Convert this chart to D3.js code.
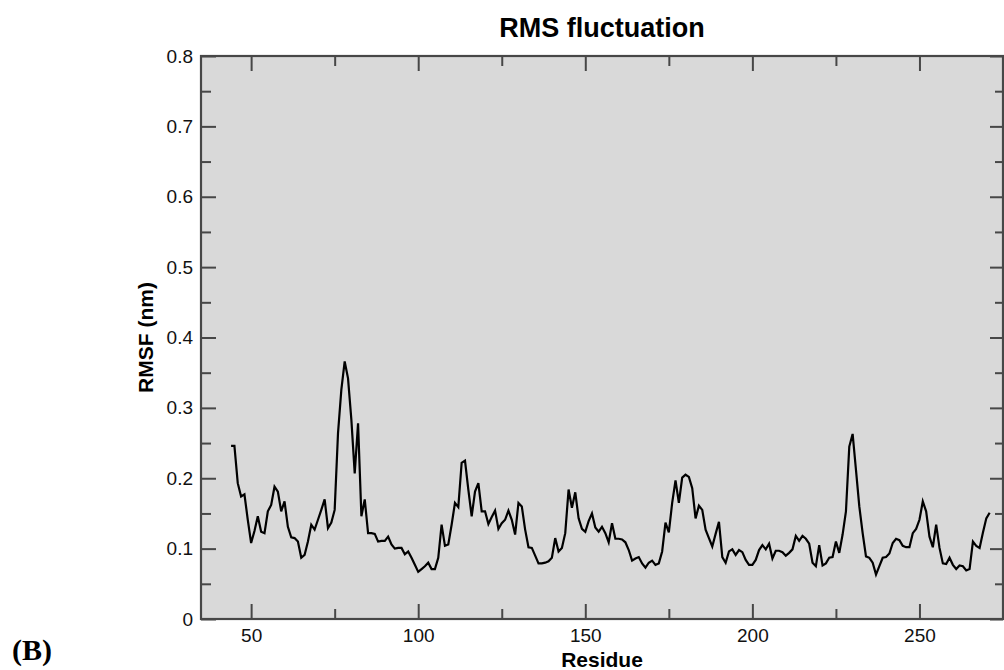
<!DOCTYPE html>
<html>
<head>
<meta charset="utf-8">
<script src="https://cdn.jsdelivr.net/npm/d3@7"></script>
<style>
  body { margin: 0; background: #fff; }
  svg { display: block; }
</style>
</head>
<body>
<div id="chart"></div>
<script>
// ── Data ──
const firstResidue = 44;
const rmsf = [
  0.246, 0.246, 0.193, 0.174, 0.177, 0.141,
  0.108, 0.125, 0.146, 0.124, 0.122, 0.153, 0.162, 0.188, 0.181, 0.153,
  0.167, 0.131, 0.116, 0.115, 0.110, 0.087, 0.091, 0.110, 0.134, 0.127,
  0.141, 0.155, 0.170, 0.129, 0.137, 0.155, 0.264, 0.326, 0.366, 0.342,
  0.283, 0.207, 0.278, 0.146, 0.170, 0.122, 0.122, 0.121, 0.110, 0.111,
  0.111, 0.117, 0.106, 0.100, 0.101, 0.101, 0.092, 0.096, 0.087, 0.077,
  0.067, 0.071, 0.075, 0.080, 0.071, 0.071, 0.087, 0.134, 0.104, 0.106,
  0.134, 0.165, 0.159, 0.222, 0.225, 0.184, 0.146, 0.181, 0.193, 0.153,
  0.153, 0.135, 0.145, 0.154, 0.128, 0.136, 0.141, 0.154, 0.141, 0.120,
  0.165, 0.160, 0.127, 0.102, 0.101, 0.090, 0.079, 0.079, 0.080, 0.082,
  0.087, 0.115, 0.096, 0.101, 0.122, 0.184, 0.158, 0.180, 0.143, 0.128,
  0.124, 0.139, 0.150, 0.130, 0.124, 0.131, 0.122, 0.109, 0.136, 0.114,
  0.114, 0.113, 0.109, 0.098, 0.083, 0.086, 0.088, 0.079, 0.073, 0.080,
  0.083, 0.077, 0.079, 0.096, 0.137, 0.123, 0.165, 0.197, 0.165, 0.201,
  0.205, 0.202, 0.186, 0.143, 0.161, 0.155, 0.127, 0.115, 0.103, 0.121,
  0.138, 0.088, 0.080, 0.096, 0.099, 0.091, 0.098, 0.095, 0.084, 0.077,
  0.077, 0.084, 0.098, 0.105, 0.099, 0.107, 0.086, 0.097, 0.097, 0.095,
  0.090, 0.094, 0.099, 0.118, 0.111, 0.118, 0.114, 0.107, 0.080, 0.075,
  0.105, 0.076, 0.079, 0.087, 0.088, 0.110, 0.094, 0.120, 0.153, 0.245,
  0.263, 0.212, 0.160, 0.122, 0.089, 0.087, 0.080, 0.063, 0.075, 0.087,
  0.088, 0.093, 0.108, 0.114, 0.112, 0.104, 0.102, 0.102, 0.122, 0.128,
  0.141, 0.167, 0.153, 0.117, 0.102, 0.134, 0.101, 0.079, 0.078, 0.087,
  0.077, 0.071, 0.076, 0.075, 0.069, 0.071, 0.110, 0.104, 0.101, 0.123,
  0.143, 0.151
];
const residues = d3.range(firstResidue, firstResidue + rmsf.length);

const xDomain = [35, 275];
const yDomain = [0, 0.8];
const xMajor = [50, 100, 150, 200, 250];
const xMinor = [75, 125, 175, 225];
const yMajor = [0, 0.1, 0.2, 0.3, 0.4, 0.5, 0.6, 0.7, 0.8];
const yMinor = [0.05, 0.15, 0.25, 0.35, 0.45, 0.55, 0.65, 0.75];

// ── Layout ──
const W = 1004, H = 670;
const M = { t: 56, r: 1, b: 51, l: 201 };
const w = W - M.l - M.r;
const h = H - M.t - M.b;
const FONT = "'Liberation Sans', Arial, Helvetica, sans-serif";
const AXIS = "#474747";

const svg = d3.select("#chart").append("svg")
  .attr("width", W).attr("height", H);

const g = svg.append("g").attr("transform", `translate(${M.l},${M.t})`);

const x = d3.scaleLinear().domain(xDomain).range([0, w]);
const y = d3.scaleLinear().domain(yDomain).range([h, 0]);

g.append("rect")
  .attr("width", w).attr("height", h)
  .attr("fill", "#d9d9d9");

// ── Ticks (all pointing inward) ──
function tickGroup(axis, transform, labels) {
  const a = g.append("g").attr("transform", transform).call(axis);
  a.select(".domain").remove();
  a.selectAll("line").attr("stroke", AXIS).attr("stroke-width", 2);
  a.selectAll("text")
    .attr("fill", labels ? "#111" : "none")
    .style("font-family", FONT)
    .style("font-size", "19px");
  return a;
}

tickGroup(d3.axisBottom(x).tickValues(xMajor).tickSize(-15).tickPadding(10).tickFormat(d3.format("d")), `translate(0,${h})`, true);
tickGroup(d3.axisBottom(x).tickValues(xMinor).tickSize(-10).tickFormat(""), `translate(0,${h})`, false);
tickGroup(d3.axisTop(x).tickValues(xMajor).tickSize(-15).tickFormat(""), "translate(0,0)", false);
tickGroup(d3.axisTop(x).tickValues(xMinor).tickSize(-10).tickFormat(""), "translate(0,0)", false);

tickGroup(d3.axisLeft(y).tickValues(yMajor).tickSize(-15).tickPadding(8).tickFormat((d) => (d === 0 ? "0" : d3.format(".1f")(d))), "translate(0,0)", true);
tickGroup(d3.axisLeft(y).tickValues(yMinor).tickSize(-10).tickFormat(""), "translate(0,0)", false);
tickGroup(d3.axisRight(y).tickValues(yMajor).tickSize(-13).tickFormat(""), `translate(${w},0)`, false);
tickGroup(d3.axisRight(y).tickValues(yMinor).tickSize(-8).tickFormat(""), `translate(${w},0)`, false);

// ── Line ──
g.append("path")
  .datum(residues.map((r, i) => ({ r, v: rmsf[i] })))
  .attr("d", d3.line().x((d) => x(d.r)).y((d) => y(d.v)))
  .attr("fill", "none")
  .attr("stroke", "#000")
  .attr("stroke-width", 2.2)
  .attr("stroke-linejoin", "miter");

// ── Frame ──
g.append("rect")
  .attr("width", w).attr("height", h)
  .attr("fill", "none")
  .attr("stroke", AXIS)
  .attr("stroke-width", 2.2);

// ── Labels ──
svg.append("text")
  .attr("x", M.l + w / 2).attr("y", 37)
  .attr("text-anchor", "middle")
  .style("font-family", FONT).style("font-size", "27px").style("font-weight", "bold")
  .text("RMS fluctuation");

svg.append("text")
  .attr("x", M.l + w / 2).attr("y", 667)
  .attr("text-anchor", "middle")
  .style("font-family", FONT).style("font-size", "21px").style("font-weight", "bold")
  .text("Residue");

svg.append("text")
  .attr("transform", `translate(153,${M.t + h / 2}) rotate(-90)`)
  .attr("text-anchor", "middle")
  .style("font-family", FONT).style("font-size", "21px").style("font-weight", "bold")
  .text("RMSF (nm)");

svg.append("text")
  .attr("x", 12).attr("y", 660)
  .style("font-family", "'Liberation Serif', 'Times New Roman', serif")
  .style("font-size", "30px").style("font-weight", "bold")
  .text("(B)");
</script>
</body>
</html>
